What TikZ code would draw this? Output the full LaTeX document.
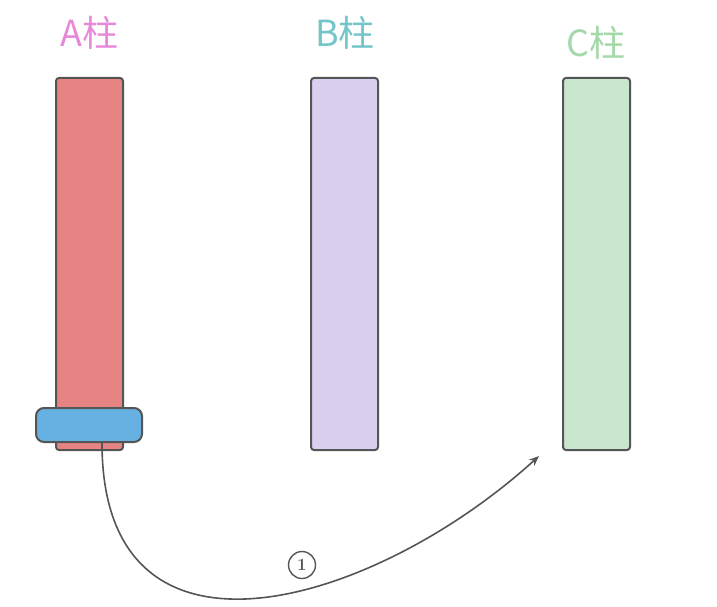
\documentclass[tikz,border=0pt]{standalone}
\usepackage{fontspec}
\newfontfamily\cjk{Noto Sans CJK SC}
\usetikzlibrary{arrows.meta,calc,positioning}
\definecolor{aCol}{HTML}{E58482}
\definecolor{bCol}{HTML}{DBCFF0}
\definecolor{cCol}{HTML}{C9E6CF}
\definecolor{aTxt}{HTML}{E788D8}
\definecolor{bTxt}{HTML}{72C5C8}
\definecolor{cTxt}{HTML}{A3D8A8}
\definecolor{diskCol}{HTML}{67B0E2}
\definecolor{edgeCol}{HTML}{555555}

\begin{document}
\begin{tikzpicture}[x=1pt,y=-1pt]
  \tikzset{pole/.style={draw=edgeCol,fill=#1,line width=2pt,rounded corners=3pt,
        minimum width=67pt,minimum height=372pt,inner sep=0pt},
    lbl/.style={text=#1,font=\cjk\fontsize{36}{38}\selectfont,inner sep=0pt},
    disk/.style={draw=edgeCol,fill=diskCol,line width=2pt,rounded corners=8pt,
        minimum width=106pt,minimum height=34pt,inner sep=0pt}}
  \useasboundingbox (0,0) rectangle (717,607);
  \node[pole=aCol] (colA) at (89.5,264) {};
  \node[pole=bCol] (colB) at (344.5,264) {};
  \node[pole=cCol] (colC) at (596.5,264) {};
  \node[lbl=aTxt] (lblA) at (89.5,33) {A柱};
  \node[lbl=bTxt] (lblB) at (345,33) {B柱};
  \node[lbl=cTxt] (lblC) at (596,43) {C柱};
  \node[disk] (disk1) at (89,425) {};
  \coordinate (tgt) at ([shift={(-23pt,-5pt)}]colC.south west);
  \draw[-{Stealth[length=10pt,width=8pt]},edgeCol,line width=1.6pt]
        ([xshift=13pt]disk1.south) .. controls +(0pt,-245pt) and +(-165pt,-150pt) .. (tgt);
  \node[draw=edgeCol,line width=1.4pt,circle,minimum size=27pt,inner sep=0pt,
        text=edgeCol,font=\bfseries\fontsize{17}{17}\selectfont] (step1) at (302,565) {1};
\end{tikzpicture}
\end{document}
